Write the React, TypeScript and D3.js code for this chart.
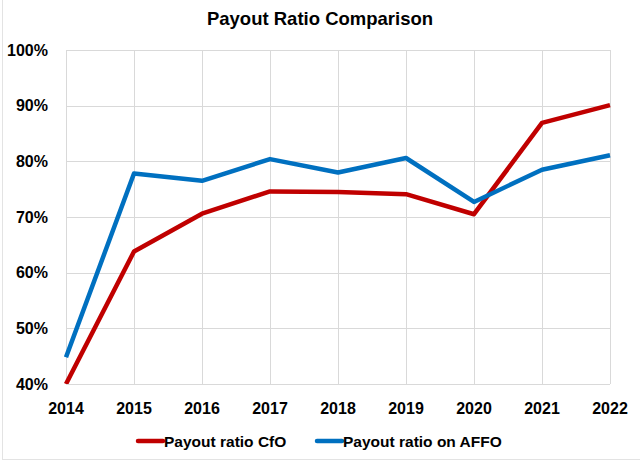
import React from "react";
import * as d3 from "d3";

const years = [2014, 2015, 2016, 2017, 2018, 2019, 2020, 2021, 2022];
const cfoRatio = [40.0, 63.8, 70.6, 74.6, 74.5, 74.1, 70.5, 86.9, 90.1];
const affoRatio = [44.8, 77.8, 76.5, 80.4, 78.0, 80.6, 72.7, 78.5, 81.1];
const yTicks = [40, 50, 60, 70, 80, 90, 100];
const seriesNames = ["Payout ratio CfO", "Payout ratio on AFFO"];
const seriesColors = ["#C00000", "#0070C0"];
const title = "Payout Ratio Comparison";

const W = 640;
const H = 465;
const left = 66;
const right = 610;
const top = 50;
const bottom = 384;
const FONT = "'Liberation Sans', Arial, sans-serif";

export default function App() {
  const x = d3.scaleLinear().domain([years[0], years[years.length - 1]]).range([left, right]);
  const y = d3.scaleLinear().domain([40, 100]).range([bottom, top]);
  const line = d3
    .line<number>()
    .x((_, i) => x(years[i]))
    .y((v) => y(v));
  const series = [cfoRatio, affoRatio];

  return (
    <svg
      width={W}
      height={H}
      style={{ position: "absolute", left: 0, top: 0, background: "#fff" }}
      fontFamily={FONT}
    >
      <defs>
        <clipPath id="plotclip">
          <rect x={left - 5} y={top - 5} width={right - left + 10} height={bottom - top + 5} />
        </clipPath>
      </defs>
      <rect x={0} y={0} width={W} height={H} fill="#fff" />
      <line x1={2.5} x2={2.5} y1={0} y2={459} stroke="#e3e3e3" strokeWidth={1} />
      <line x1={2} x2={640} y1={459.5} y2={459.5} stroke="#e3e3e3" strokeWidth={1} />
      <text x={320} y={25} textAnchor="middle" fontSize={18.5} fontWeight="bold" fill="#000">
        {title}
      </text>
      {yTicks.map((t) => (
        <g key={t}>
          <line x1={left} x2={right} y1={Math.round(y(t)) + 0.5} y2={Math.round(y(t)) + 0.5} stroke="#d9d9d9" strokeWidth={1} />
          <text x={48} y={y(t) + 5.5} textAnchor="end" fontSize={16} fontWeight="bold" fill="#000">
            {t}%
          </text>
        </g>
      ))}
      {years.map((yr) => (
        <g key={yr}>
          <line x1={Math.round(x(yr)) + 0.5} x2={Math.round(x(yr)) + 0.5} y1={top} y2={bottom} stroke="#d9d9d9" strokeWidth={1} />
          <text x={x(yr)} y={414} textAnchor="middle" fontSize={16} fontWeight="bold" fill="#000">
            {yr}
          </text>
        </g>
      ))}
      <g clipPath="url(#plotclip)">
        {series.map((s, i) => (
          <path
            key={i}
            d={line(s) || ""}
            fill="none"
            stroke={seriesColors[i]}
            strokeWidth={4.5}
            strokeLinejoin="round"
          />
        ))}
      </g>
      {seriesNames.map((n, i) => {
        const lx = i === 0 ? 138 : 317;
        return (
          <g key={n}>
            <line x1={lx} x2={lx + 25} y1={441} y2={441} stroke={seriesColors[i]} strokeWidth={4.5} strokeLinecap="round" />
            <text x={lx + 26} y={446.5} fontSize={15.5} fontWeight="bold" fill="#000">
              {n}
            </text>
          </g>
        );
      })}
    </svg>
  );
}
